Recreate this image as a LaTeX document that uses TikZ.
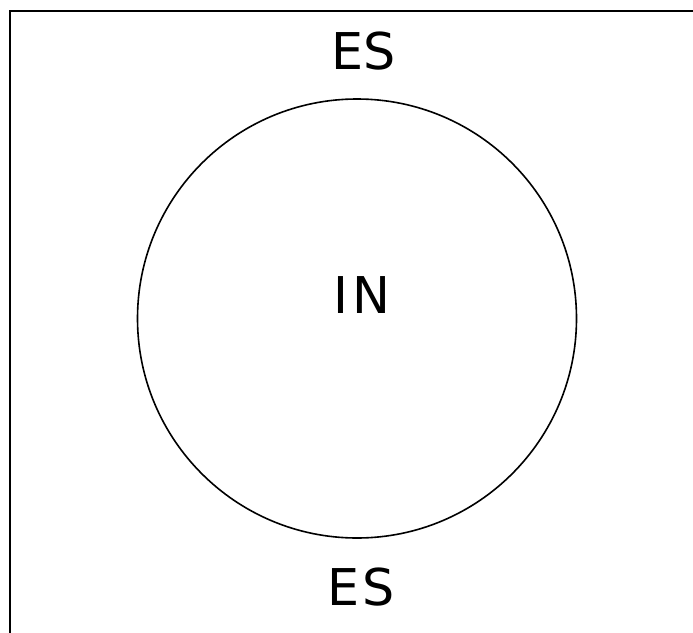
\documentclass[tikz,border=0pt]{standalone}
\usepackage{fontspec}
\setmainfont{DejaVu Sans}
\begin{document}
\begin{tikzpicture}[x=1pt,y=-1pt,
  lbl/.style={anchor=base,inner sep=0pt,font=\fontsize{50.7}{56}\selectfont}]
\useasboundingbox (0,0) rectangle (693,632);
\clip (0,0) rectangle (693,632);
\draw[line width=2.3pt] (10,11) rectangle (720,660);
\node[circle,draw,line width=1.6pt,minimum size=439pt,inner sep=0pt] (c) at (357,318.5) {};
\node[lbl] (es1) at (364,69.5) {ES};
\node[lbl] (in) at (362,313) {I\hspace{5pt}N};
\node[lbl] (es2) at (361,605) {E\hspace{3pt}S};
\end{tikzpicture}
\end{document}
